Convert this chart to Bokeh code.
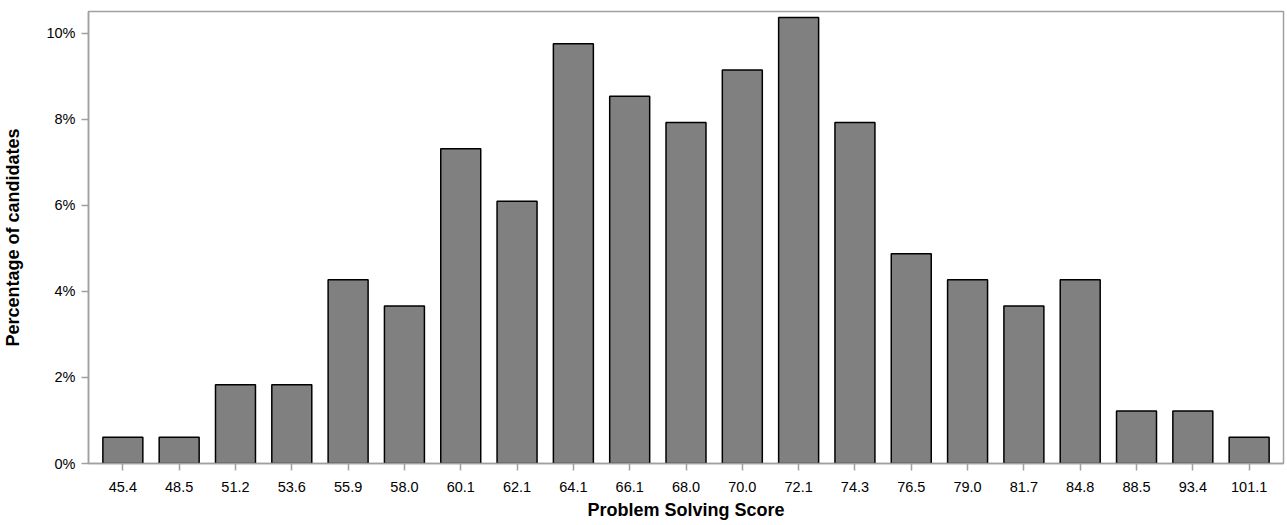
from bokeh.plotting import figure
from bokeh.models import FactorRange, Range1d, PrintfTickFormatter, FixedTicker
from bokeh.embed import file_html
from bokeh.resources import INLINE

scores = ["45.4", "48.5", "51.2", "53.6", "55.9", "58.0", "60.1", "62.1", "64.1", "66.1", "68.0",
          "70.0", "72.1", "74.3", "76.5", "79.0", "81.7", "84.8", "88.5", "93.4", "101.1"]
percent = [0.61, 0.61, 1.83, 1.83, 4.27, 3.66, 7.32, 6.10, 9.76, 8.54, 7.93,
           9.15, 10.37, 7.93, 4.88, 4.27, 3.66, 4.27, 1.22, 1.22, 0.61]
y_ticks = [0, 2, 4, 6, 8, 10]

FONT = "Liberation Sans"
GRAY = "#a0a0a0"

p = figure(width=1287, height=525, output_backend="svg", toolbar_location=None,
           x_range=FactorRange(factors=scores, range_padding=0.11, range_padding_units="absolute"),
           y_range=Range1d(0, 10.51),
           min_border_left=85, min_border_right=4, min_border_top=11, min_border_bottom=62)

p.vbar(x=scores, top=percent, width=0.71, fill_color="#808080", line_color="black", line_width=1.5)

p.xgrid.visible = False
p.ygrid.visible = False
p.outline_line_color = GRAY
p.outline_line_width = 1.5

for ax in (p.xaxis[0], p.yaxis[0]):
    ax.axis_line_color = GRAY
    ax.axis_line_width = 1.5
    ax.major_tick_line_color = GRAY
    ax.major_tick_line_width = 1.5
    ax.minor_tick_line_color = None
    ax.major_tick_in = 0
    ax.major_tick_out = 7
    ax.major_label_text_font = FONT
    ax.major_label_text_font_size = "14.5px"
    ax.major_label_text_color = "black"
    ax.axis_label_text_font = FONT
    ax.axis_label_text_font_size = "18px"
    ax.axis_label_text_font_style = "bold"
    ax.axis_label_text_color = "black"

p.yaxis[0].ticker = FixedTicker(ticks=y_ticks)
p.yaxis[0].formatter = PrintfTickFormatter(format="%d%%")
p.yaxis[0].axis_label = "Percentage of candidates"
p.yaxis[0].axis_label_standoff = 20
p.yaxis[0].major_label_standoff = 6
p.xaxis[0].axis_label = "Problem Solving Score"
p.xaxis[0].axis_label_standoff = 5
p.xaxis[0].major_label_standoff = 11

open("out.html", "w").write(file_html(p, INLINE))
